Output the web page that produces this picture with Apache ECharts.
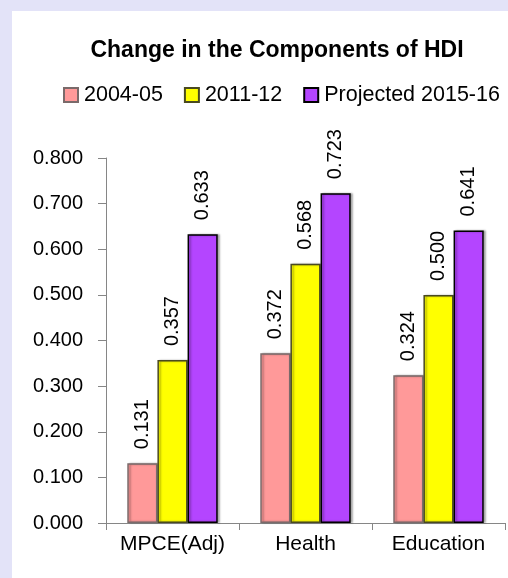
<!DOCTYPE html>
<html>
<head>
<meta charset="utf-8">
<style>
html,body{margin:0;padding:0;background:#ffffff;}
#c{width:508px;height:578px;}
</style>
<script src="https://cdn.jsdelivr.net/npm/echarts@6/dist/echarts.min.js"></script>
</head>
<body>
<div id="c"></div>
<script>
const categories = ['MPCE(Adj)', 'Health', 'Education'];
const seriesNames = ['2004-05', '2011-12', 'Projected 2015-16'];
const values2004 = [0.131, 0.372, 0.324];
const values2011 = [0.357, 0.568, 0.500];
const valuesProj = [0.633, 0.723, 0.641];
const yTicks = [0, 0.1, 0.2, 0.3, 0.4, 0.5, 0.6, 0.7, 0.8];

const FONT = 'Liberation Sans';
const colors = ['#ff9999', '#ffff00', '#b445ff'];
const borders = ['#7a6a6a', '#4a4a20', '#000000'];
const allValues = [values2004, values2011, valuesProj];

const chart = echarts.init(document.getElementById('c'), null, {renderer: 'canvas'});
chart.setOption({
  backgroundColor: '#ffffff',
  animation: false,
  graphic: [{
    type: 'rect', z: -10, silent: true,
    shape: {x: 0, y: 0, width: 508, height: 11},
    style: {fill: '#e3e3f8'}
  }, {
    type: 'rect', z: -10, silent: true,
    shape: {x: 0, y: 0, width: 12, height: 578},
    style: {fill: '#e3e3f8'}
  }],
  title: {
    text: 'Change in the Components of HDI',
    left: 272, top: 34, textAlign: 'center',
    textStyle: {fontFamily: FONT, fontWeight: 'bold', fontSize: 23, color: '#000'}
  },
  legend: {
    left: 58, top: 79,
    itemWidth: 14, itemHeight: 14, itemGap: 21,
    icon: 'rect',
    textStyle: {fontFamily: FONT, fontSize: 21.5, color: '#000', padding: [0, 0, 0, 1]},
    data: seriesNames
  },
  grid: {left: 106, right: 3, top: 158, bottom: 55, containLabel: false},
  xAxis: {
    type: 'category',
    data: categories,
    axisLine: {lineStyle: {color: '#868686', width: 1}},
    axisTick: {show: true, length: 7, lineStyle: {color: '#868686'}},
    axisLabel: {interval: 0, fontFamily: FONT, fontSize: 21, color: '#000', margin: 11}
  },
  yAxis: {
    type: 'value',
    min: yTicks[0], max: yTicks[yTicks.length - 1], interval: 0.1,
    axisLine: {show: true, lineStyle: {color: '#868686', width: 1}},
    axisTick: {show: true, length: 8, lineStyle: {color: '#868686'}},
    splitLine: {show: false},
    axisLabel: {fontFamily: FONT, fontSize: 20, color: '#000', margin: 23,
      formatter: v => v.toFixed(3)}
  },
  series: seriesNames.map((name, i) => ({
    name: name,
    type: 'bar',
    data: allValues[i],
    barGap: '0%',
    barCategoryGap: '32%',
    itemStyle: {color: colors[i], borderColor: borders[i], borderWidth: 1.5,
      shadowColor: 'rgba(0,0,0,0.3)', shadowOffsetX: 2, shadowBlur: 2},
    label: {
      show: true, position: 'top', rotate: 90, distance: 14,
      align: 'left', verticalAlign: 'middle',
      fontFamily: FONT, fontSize: 20, color: '#000',
      formatter: p => p.value.toFixed(3)
    }
  }))
});
</script>
</body>
</html>
